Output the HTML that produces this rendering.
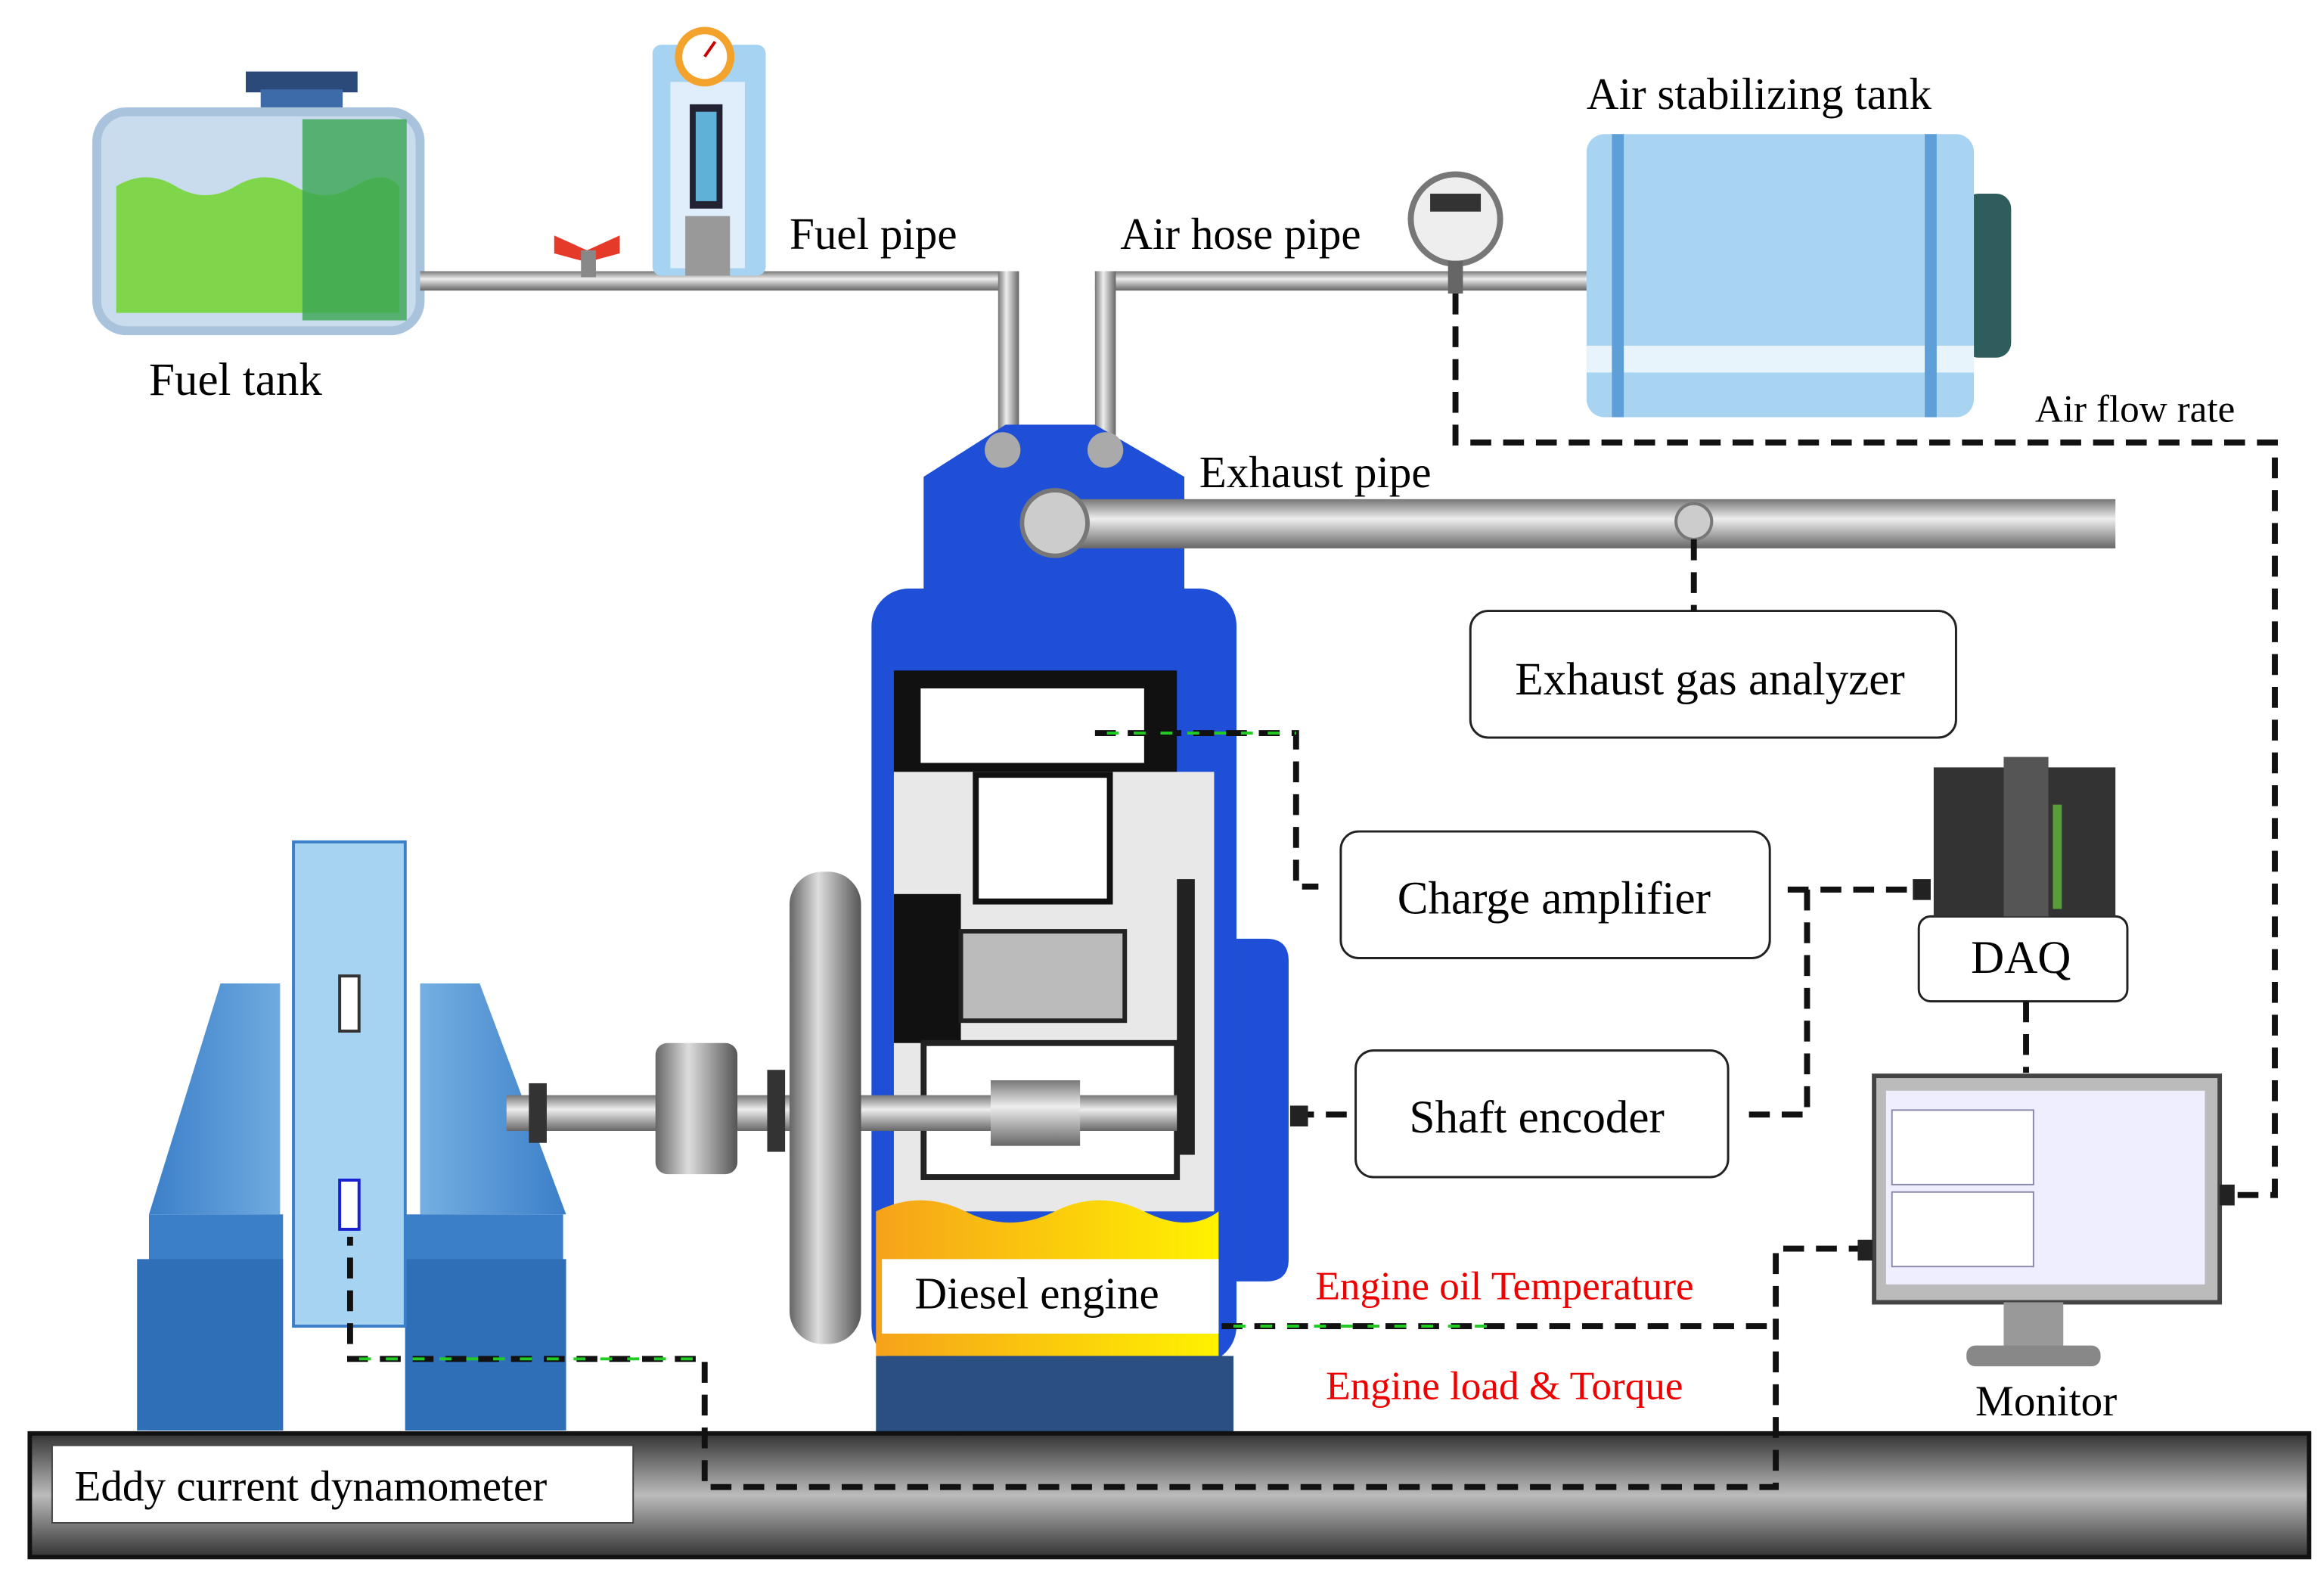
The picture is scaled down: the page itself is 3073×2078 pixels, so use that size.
<!DOCTYPE html>
<html><head><meta charset="utf-8"><style>
html,body{margin:0;padding:0;background:#fff;}
svg{display:block;}
text{font-family:"Liberation Serif",serif;}
</style></head><body>
<svg width="3073" height="2078" viewBox="0 0 1560 1055" preserveAspectRatio="none" xmlns="http://www.w3.org/2000/svg">
<defs>
<linearGradient id="pipeH" x1="0" y1="0" x2="0" y2="1"><stop offset="0" stop-color="#777"/><stop offset=".4" stop-color="#eee"/><stop offset="1" stop-color="#666"/></linearGradient>
<linearGradient id="pipeV" x1="0" y1="0" x2="1" y2="0"><stop offset="0" stop-color="#777"/><stop offset=".4" stop-color="#eee"/><stop offset="1" stop-color="#666"/></linearGradient>
<linearGradient id="base" x1="0" y1="0" x2="0" y2="1"><stop offset="0" stop-color="#333"/><stop offset=".5" stop-color="#bbb"/><stop offset="1" stop-color="#333"/></linearGradient>
<linearGradient id="oil" x1="0" y1="0" x2="1" y2="0"><stop offset="0" stop-color="#f6a21a"/><stop offset="1" stop-color="#fff200"/></linearGradient>
<linearGradient id="fly" x1="0" y1="0" x2="1" y2="0"><stop offset="0" stop-color="#666"/><stop offset=".4" stop-color="#ddd"/><stop offset="1" stop-color="#555"/></linearGradient>
<linearGradient id="dyno" x1="0" y1="0" x2="1" y2="0"><stop offset="0" stop-color="#3b7fc8"/><stop offset=".5" stop-color="#8ec4ee"/><stop offset="1" stop-color="#3b7fc8"/></linearGradient>
</defs>
<rect width="1560" height="1055" fill="#fff"/>

<!-- Fuel tank -->
<rect x="165" y="48" width="75" height="14" fill="#2b4a7a"/>
<rect x="175" y="60" width="55" height="18" fill="#3d6aa8"/>
<rect x="65" y="75" width="217" height="147" rx="20" fill="#c9dced" stroke="#a9c3dc" stroke-width="6"/>
<path d="M78 125 q20 -12 40 0 t40 0 t40 0 t40 0 t30 0 v85 h-190 z" fill="#7fd64a"/>
<rect x="203" y="80" width="70" height="135" fill="#3aa553" opacity=".8"/>
<text x="100" y="265" font-size="31">Fuel tank</text>

<!-- Fuel pipe -->
<rect x="282" y="182" width="400" height="13" fill="url(#pipeH)"/>
<rect x="670" y="182" width="14" height="115" fill="url(#pipeV)"/>
<path d="M372 158 l22 10 l22 -10 v12 l-22 6 l-22 -6z" fill="#e53a2a"/>
<rect x="390" y="168" width="10" height="18" fill="#888"/>
<rect x="438" y="30" width="76" height="155" rx="6" fill="#a6d3f2"/>
<rect x="450" y="55" width="50" height="125" fill="#dfeefa"/>
<rect x="463" y="70" width="22" height="70" fill="#223"/>
<rect x="467" y="75" width="14" height="60" fill="#5fb1d8"/>
<rect x="460" y="145" width="30" height="40" fill="#999"/>
<circle cx="473" cy="38" r="20" fill="#f3a22b"/><circle cx="473" cy="38" r="15" fill="#fff"/>
<line x1="473" y1="38" x2="480" y2="28" stroke="#c00" stroke-width="2"/>
<text x="530" y="167" font-size="30">Fuel pipe</text>

<!-- Air hose pipe -->
<rect x="735" y="182" width="330" height="13" fill="url(#pipeH)"/>
<rect x="735" y="182" width="14" height="115" fill="url(#pipeV)"/>
<circle cx="977" cy="147" r="30" fill="#eee" stroke="#777" stroke-width="4"/>
<rect x="960" y="130" width="34" height="12" fill="#333"/>
<rect x="972" y="175" width="10" height="22" fill="#666"/>
<text x="752" y="167" font-size="30">Air hose pipe</text>

<!-- Air tank -->
<rect x="1318" y="130" width="32" height="110" rx="10" fill="#2f5c5c"/>
<rect x="1065" y="90" width="260" height="190" rx="12" fill="#a8d4f2"/>
<rect x="1065" y="232" width="260" height="18" fill="#e8f4fc"/>
<rect x="1082" y="90" width="8" height="190" fill="#5d9fd6"/>
<rect x="1292" y="90" width="8" height="190" fill="#5d9fd6"/>
<text x="1065" y="73" font-size="30">Air stabilizing tank</text>
<text x="1366" y="283" font-size="26">Air flow rate</text>

<!-- Engine -->
<path d="M620 320 l55 -35 h60 l60 35 v80 h-175z" fill="#1f4fd6"/>
<rect x="585" y="395" width="245" height="520" rx="25" fill="#1f4fd6"/>
<rect x="600" y="450" width="190" height="70" fill="#111"/>
<rect x="618" y="462" width="150" height="50" fill="#fff"/>
<rect x="600" y="518" width="215" height="295" fill="#e8e8e8"/>
<rect x="655" y="520" width="90" height="85" fill="#fff" stroke="#111" stroke-width="4"/>
<rect x="600" y="600" width="45" height="100" fill="#111"/>
<rect x="645" y="625" width="110" height="60" fill="#bbb" stroke="#222" stroke-width="3"/>
<rect x="620" y="700" width="170" height="90" fill="#fff" stroke="#222" stroke-width="4"/>
<rect x="790" y="590" width="12" height="185" fill="#222"/>
<path d="M588 813 q30 -15 60 0 t60 0 t60 0 t50 0 v97 h-230z" fill="url(#oil)"/>
<rect x="588" y="910" width="240" height="52" fill="#2a4f80"/>
<path d="M830 630 h20 q15 0 15 15 v200 q0 15 -15 15 h-20z" fill="#1f4fd6"/>
<rect x="592" y="845" width="226" height="50" fill="#fff"/>
<text x="614" y="878" font-size="30">Diesel engine</text>
<circle cx="673" cy="302" r="12" fill="#aaa"/><circle cx="742" cy="302" r="12" fill="#aaa"/>

<!-- Exhaust pipe -->
<rect x="700" y="335" width="720" height="33" fill="url(#pipeH)"/>
<circle cx="708" cy="351" r="22" fill="#ccc" stroke="#777" stroke-width="3"/>
<circle cx="1137" cy="350" r="12" fill="#ccc" stroke="#777" stroke-width="2"/>
<text x="805" y="327" font-size="30">Exhaust pipe</text>

<!-- Dynamometer -->
<path d="M100 815 L148 660 h40 v155 z M380 815 L322 660 h-40 v155 z" fill="url(#dyno)"/>
<rect x="100" y="815" width="90" height="145" fill="#3b7fc8"/>
<rect x="272" y="815" width="106" height="145" fill="#3b7fc8"/>
<rect x="92" y="845" width="98" height="115" fill="#2f6fb8"/>
<rect x="272" y="845" width="108" height="115" fill="#2f6fb8"/>
<rect x="197" y="565" width="75" height="325" fill="#a6d3f2" stroke="#3b7fc8" stroke-width="2"/>
<rect x="228" y="655" width="13" height="37" fill="#fff" stroke="#333" stroke-width="2"/>
<rect x="228" y="792" width="13" height="33" fill="#fff" stroke="#1a22d0" stroke-width="2"/>

<!-- Shaft and flywheel -->
<rect x="340" y="735" width="450" height="24" fill="url(#pipeH)"/>
<rect x="440" y="700" width="55" height="88" rx="8" fill="url(#fly)"/>
<rect x="355" y="727" width="12" height="40" fill="#333"/>
<rect x="515" y="718" width="12" height="55" fill="#333"/>
<rect x="530" y="585" width="48" height="317" rx="22" fill="url(#fly)"/>
<rect x="665" y="725" width="60" height="44" fill="url(#pipeH)"/>

<!-- Base -->
<rect x="20" y="962" width="1530" height="83" fill="url(#base)" stroke="#111" stroke-width="3"/>
<rect x="35" y="970" width="390" height="52" fill="#fff" stroke="#444" stroke-width="1"/>
<text x="50" y="1007" font-size="29">Eddy current dynamometer</text>

<!-- Boxes -->
<g fill="#fff" stroke="#222" stroke-width="1.5">
<rect x="987" y="410" width="326" height="85" rx="12"/>
<rect x="900" y="558" width="288" height="85" rx="12"/>
<rect x="910" y="705" width="250" height="85" rx="12"/>
<rect x="1288" y="615" width="140" height="57" rx="8"/>
</g>
<text x="1017" y="466" font-size="31">Exhaust gas analyzer</text>
<text x="938" y="613" font-size="31">Charge amplifier</text>
<text x="946" y="760" font-size="31">Shaft encoder</text>
<text x="1323" y="653" font-size="31">DAQ</text>

<!-- DAQ machine -->
<rect x="1298" y="515" width="122" height="100" fill="#333"/>
<rect x="1345" y="508" width="30" height="107" fill="#555"/>
<rect x="1378" y="540" width="6" height="70" fill="#5a9e3a"/>

<!-- Monitor -->
<rect x="1258" y="722" width="232" height="152" fill="#bbb" stroke="#444" stroke-width="3"/>
<rect x="1266" y="732" width="214" height="130" fill="#eef"/>
<rect x="1270" y="745" width="95" height="50" fill="#fff" stroke="#88a"/>
<rect x="1270" y="800" width="95" height="50" fill="#fff" stroke="#88a"/>
<rect x="1345" y="874" width="40" height="30" fill="#999"/>
<rect x="1320" y="903" width="90" height="14" rx="6" fill="#888"/>
<text x="1326" y="950" font-size="29">Monitor</text>

<!-- Red labels -->
<rect x="870" y="840" width="295" height="45" fill="#fff"/>
<rect x="875" y="905" width="280" height="45" fill="#fff"/>
<text x="883" y="872" font-size="27" fill="#e00">Engine oil Temperature</text>
<text x="890" y="939" font-size="27" fill="#e00">Engine load &amp; Torque</text>

<!-- Dashed lines -->
<g fill="none" stroke="#111" stroke-width="4" stroke-dasharray="14 8">
<path d="M977 197 V297 H1527 V802 H1495"/>
<path d="M1137 362 V410"/>
<path d="M735 492 H870 V595 H885"/>
<path d="M1200 597 H1292"/>
<path d="M1213 597 V748 H1168"/>
<path d="M868 748 H910"/>
<path d="M1360 672 V720"/>
<path d="M1255 838 H1192 V998 H473 V912 H235 V830"/>
<path d="M820 890 H1192"/>
</g>
<g fill="none" stroke="#2c2" stroke-width="2" stroke-dasharray="8 10" stroke-dashoffset="10">
<path d="M735 492 H870"/><path d="M473 912 H235"/><path d="M820 890 H1000"/>
</g>
<rect x="1490" y="795" width="10" height="14" fill="#222"/>
<rect x="1247" y="832" width="10" height="14" fill="#222"/>
<rect x="1284" y="590" width="12" height="14" fill="#222"/>
<rect x="866" y="742" width="12" height="14" fill="#222"/>
</svg>
</body></html>
